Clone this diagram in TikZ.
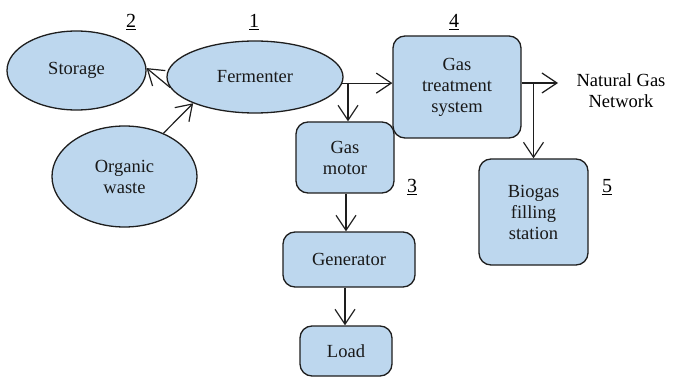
\documentclass[tikz,border=0pt]{standalone}
\usepackage{fontspec}
\setmainfont{Liberation Serif}
\usetikzlibrary{shapes.geometric,arrows.meta}
\definecolor{boxfill}{RGB}{189,215,238}
\definecolor{edge}{RGB}{30,30,30}
\tikzset{
  base/.style={draw=edge, fill=boxfill, line width=1.3pt, inner sep=0pt, align=center,
    font=\fontsize{18.5}{21}\selectfont, text=black!90},
  oval/.style={base, ellipse},
  rbox/.style={base, rectangle, rounded corners=12pt},
  arr/.style={draw=edge, line width=1.2pt, -{Straight Barb[length=15pt,width=20pt,line width=1.2pt]}},
  num/.style={font=\fontsize{20}{22}\selectfont, inner sep=0pt},
  plain/.style={font=\fontsize{18.5}{21}\selectfont, inner sep=0pt, align=center}
}
\begin{document}
\begin{tikzpicture}[x=1pt,y=-1pt]
\useasboundingbox (0,0) rectangle (675,377);
% nodes
\node[oval, minimum width=139pt, minimum height=79pt] (ST) at (76.5,70.5) {Storage};
\node[oval, minimum width=176pt, minimum height=72pt] (FE) at (255,77) {Fermenter};
\node[oval, minimum width=145pt, minimum height=101pt] (OW) at (124.5,176.5) {Organic\\waste};
\node[rbox, minimum width=128pt, minimum height=102pt] (GT) at (457,87) {Gas\\treatment\\system};
\node[rbox, minimum width=98pt, minimum height=71pt] (GM) at (345,157.5) {Gas\\motor};
\node[rbox, minimum width=132pt, minimum height=55pt] (GE) at (349,259.5) {Generator};
\node[rbox, minimum width=92pt, minimum height=50pt] (LO) at (346,351) {Load};
\node[rbox, minimum width=109pt, minimum height=106pt] (BS) at (533.5,212) {Biogas\\filling\\station};
\node[plain] (NG) at (621,91) {Natural Gas\\Network};
% numbers
\node[num] (n2) at (131,22) {\underline{2}};
\node[num] (n1) at (254,22) {\underline{1}};
\node[num] (n4) at (454,22) {\underline{4}};
\node[num] (n3) at (412,187) {\underline{3}};
\node[num] (n5) at (607,187) {\underline{5}};
% junctions
\coordinate (j1) at (348,83);
\coordinate (j2) at (533.5,83);
\coordinate (ngend) at (558,83);
% connectors
\draw[arr] (FE.187) -- (ST.2);
\draw[arr] (OW.48.5) -- (FE.203.5);
\draw[arr] (FE.-4) -- (FE.-4 -| GT.west);
\draw[arr] (j1) -- (j1 |- GM.north);
\draw[arr] ([yshift=4pt]GT.east) -- (ngend);
\draw[arr] (j2) -- (BS.north);
\draw[arr] (GM.south -| 346,0) -- (GE.north -| 346,0);
\draw[arr] (GE.south -| 345,0) -- (LO.north -| 345,0);
\end{tikzpicture}
\end{document}
